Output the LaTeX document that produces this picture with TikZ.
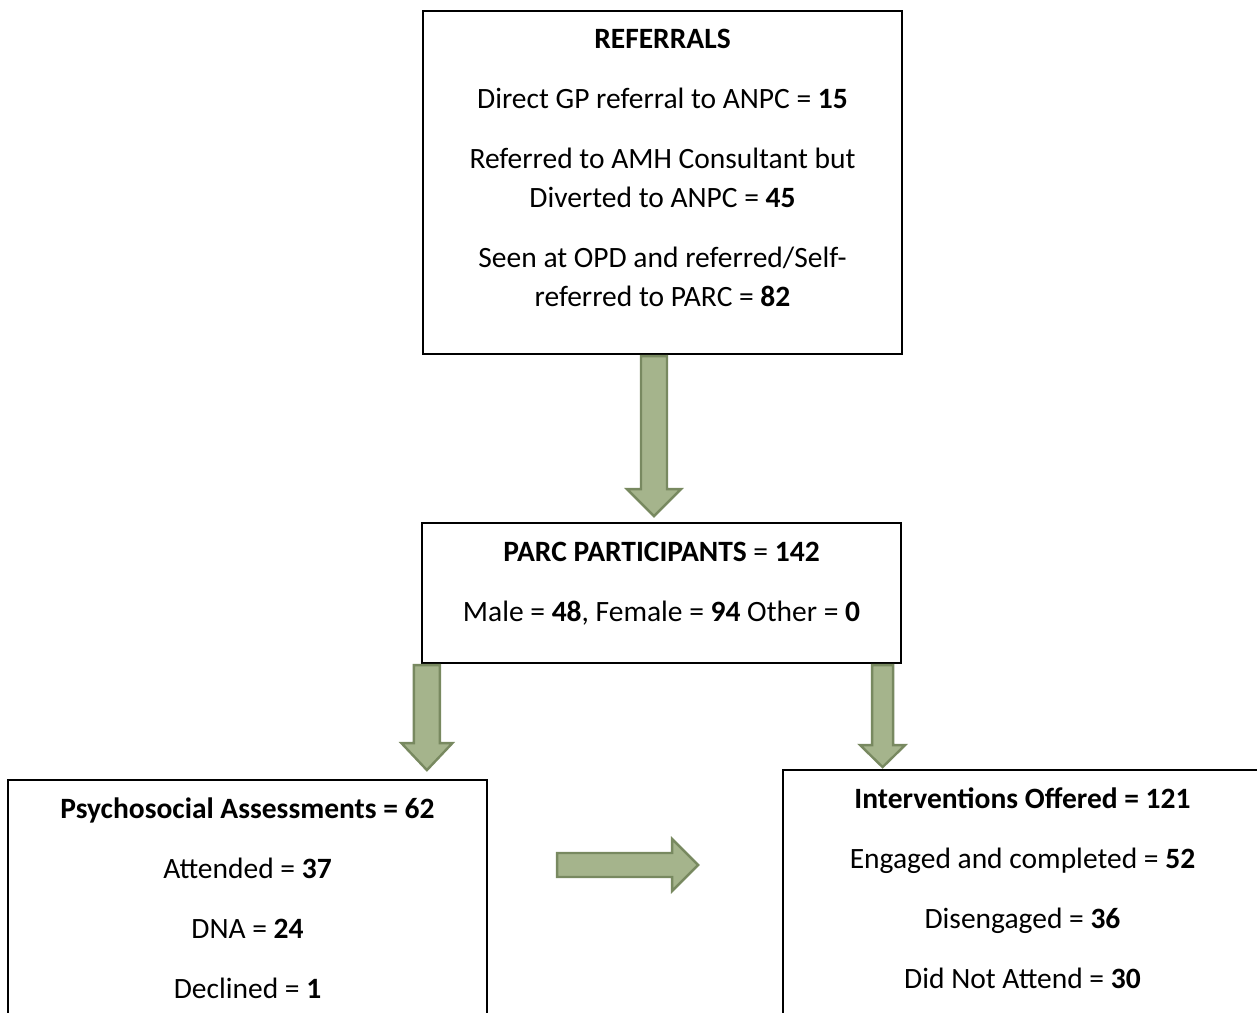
\documentclass[tikz,border=0pt]{standalone}
\usepackage{fontspec}
\setmainfont{Carlito}
\usetikzlibrary{positioning, calc}

\definecolor{arrowfill}{RGB}{165,180,140}
\definecolor{arrowline}{RGB}{120,137,96}

% block arrows: #1 start coordinate, #2 length, #3 half shaft, #4 half head, #5 head length
\newcommand{\blockdown}[5]{%
  \draw[blockarrow] ($(#1)+(-#3,0)$) -- ++(0,#2-#5) -- ++(#3-#4,0) -- ++(#4,#5)
    -- ++(#4,-#5) -- ++(#3-#4,0) -- ($(#1)+(#3,0)$) -- cycle;}
\newcommand{\blockright}[5]{%
  \draw[blockarrow] ($(#1)+(0,-#3)$) -- ++(#2-#5,0) -- ++(0,#3-#4) -- ++(#5,#4)
    -- ++(-#5,#4) -- ++(0,#3-#4) -- ($(#1)+(0,#3)$) -- cycle;}

\begin{document}
\begin{tikzpicture}[x=0.5pt,y=-0.5pt,
    box/.style={draw=black,line width=1.1pt,inner sep=0pt},
    line/.style={anchor=base,inner sep=0pt,font=\fontsize{14.75pt}{19.5pt}\selectfont},
    blockarrow/.style={fill=arrowfill,draw=arrowline,line width=1.2pt,line join=miter}]
  \useasboundingbox (0,0) rectangle (1257,1012);

  % boxes
  \node[box,minimum width=239.5pt,minimum height=171.5pt] (ref) at (662.5,182.5) {};
  \node[box,minimum width=239.5pt,minimum height=70pt] (parc) at (661.5,593) {};
  \node[box,minimum width=239.5pt,minimum height=125pt] (psy) at (247.5,905) {};
  \node[box,minimum width=239.5pt,minimum height=130pt] (intv) at (1022.5,900) {};

  % referrals
  \node[line] (refhead) at ($(ref.north)+(0,39)$) {\textbf{REFERRALS}};
  \node[line] (ref1) at ($(ref.north)+(0,99)$) {Direct GP referral to ANPC = \textbf{15}};
  \node[line] (ref2a) at ($(ref.north)+(0,159)$) {Referred to AMH Consultant but};
  \node[line] (ref2b) at ($(ref.north)+(0,198)$) {Diverted to ANPC = \textbf{45}};
  \node[line] (ref3a) at ($(ref.north)+(0,258)$) {Seen at OPD and referred/Self-};
  \node[line] (ref3b) at ($(ref.north)+(0,297)$) {referred to PARC = \textbf{82}};

  % participants
  \node[line] (parchead) at ($(parc.north)+(0,40)$) {\textbf{PARC PARTICIPANTS} = \textbf{142}};
  \node[line] (parc1) at ($(parc.north)+(0,100)$) {Male = \textbf{48}, Female = \textbf{94} Other = \textbf{0}};

  % assessments
  \node[line] (psyhead) at ($(psy.north)+(0,40)$) {\textbf{Psychosocial Assessments = 62}};
  \node[line] (psy1) at ($(psy.north)+(0,100)$) {Attended = \textbf{37}};
  \node[line] (psy2) at ($(psy.north)+(0,160)$) {DNA = \textbf{24}};
  \node[line] (psy3) at ($(psy.north)+(0,220)$) {Declined = \textbf{1}};

  % interventions
  \node[line] (intvhead) at ($(intv.north)+(0,40)$) {\textbf{Interventions Offered = 121}};
  \node[line] (intv1) at ($(intv.north)+(0,100)$) {Engaged and completed = \textbf{52}};
  \node[line] (intv2) at ($(intv.north)+(0,160)$) {Disengaged = \textbf{36}};
  \node[line] (intv3) at ($(intv.north)+(0,220)$) {Did Not Attend = \textbf{30}};

  % arrows
  \coordinate (a1) at ($(ref.south)+(-8.5,1)$);
  \coordinate (a2) at ($(parc.south west)+(6,1)$);
  \coordinate (a3) at ($(parc.south east)+(-19.5,1)$);
  \coordinate (a4) at ($(psy.east)+(69,-40)$);
  \blockdown{a1}{160}{13}{27}{27}
  \blockdown{a2}{105}{13}{25.5}{27}
  \blockdown{a3}{102}{10.5}{22.5}{22}
  \blockright{a4}{141}{12}{26}{26}
\end{tikzpicture}
\end{document}
